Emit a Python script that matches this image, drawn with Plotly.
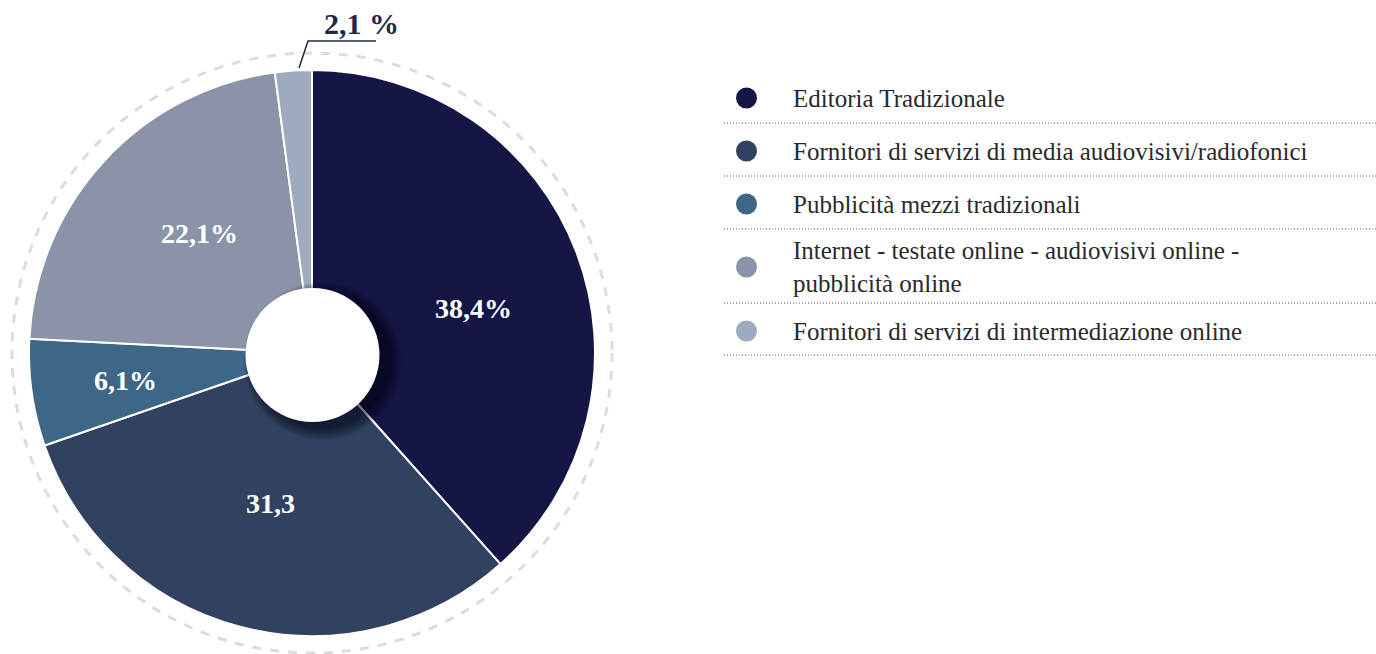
import plotly.graph_objects as go

# Shares by sector (%), clockwise from 12 o'clock
categories = [
    "Editoria Tradizionale",
    "Fornitori di servizi di media audiovisivi/radiofonici",
    "Pubblicità mezzi tradizionali",
    "Internet - testate online - audiovisivi online -<br>pubblicità online",
    "Fornitori di servizi di intermediazione online",
]
values = [38.4, 31.3, 6.1, 22.1, 2.1]
value_labels = ["38,4%", "31,3", "6,1%", "22,1%", "2,1 %"]
colors = ["#161646", "#30425f", "#3e6686", "#8b93a9", "#9eaabd"]

W, H = 1376, 654
SERIF = "Liberation Serif"


def px(x):
    return x / W


def py(y):
    return 1 - y / H


cx, cy, R = 312, 353, 283

fig = go.Figure(
    go.Pie(
        labels=categories,
        values=values,
        sort=False,
        direction="clockwise",
        rotation=0,
        hole=0.2,
        marker=dict(colors=colors, line=dict(color="white", width=2)),
        textinfo="none",
        hoverinfo="label+value",
        showlegend=False,
        domain=dict(x=[px(cx - R), px(cx + R)], y=[py(cy + R), py(cy - R)]),
    )
)

shapes = []
# dashed ring around the pie
RD = 300
shapes.append(dict(type="circle", xref="paper", yref="paper",
                   x0=px(cx - RD), x1=px(cx + RD), y0=py(cy + RD), y1=py(cy - RD),
                   line=dict(color="#dcdcdc", width=3, dash="dash"), layer="below"))

# soft shadow cast by the centre hole towards the lower right
hx, hy, hr = 312.5, 355, 67
ox, oy = 10, 6
for k in range(12, -1, -1):
    r = hr + k
    shapes.append(dict(type="circle", xref="paper", yref="paper",
                       x0=px(hx + ox - r), x1=px(hx + ox + r),
                       y0=py(hy + oy + r), y1=py(hy + oy - r),
                       fillcolor="rgba(0,0,20,0.055)", line=dict(width=0), layer="above"))
# the white centre of the donut
shapes.append(dict(type="circle", xref="paper", yref="paper",
                   x0=px(hx - hr), x1=px(hx + hr), y0=py(hy + hr), y1=py(hy - hr),
                   fillcolor="white", line=dict(width=0), layer="above"))

# leader line for the smallest slice
shapes.append(dict(type="path", xref="paper", yref="paper",
                   path=f"M {px(299)},{py(68)} L {px(308)},{py(41)} L {px(376)},{py(41)}",
                   line=dict(color="#1b2a4a", width=1.5)))

annotations = []
# in-slice value labels
label_pos = [(473, 308), (270, 503), (125, 381), (199, 233)]
for (x, y), t in zip(label_pos, value_labels[:4]):
    annotations.append(dict(x=px(x), y=py(y), xref="paper", yref="paper",
                            xanchor="center", yanchor="middle", text=f"<b>{t}</b>",
                            showarrow=False, font=dict(family=SERIF, size=28, color="white")))
annotations.append(dict(x=px(361), y=py(23), xref="paper", yref="paper",
                        xanchor="center", yanchor="middle",
                        text=f"<b>{value_labels[4]}</b>", showarrow=False,
                        font=dict(family=SERIF, size=30, color="#1b2a4a")))

# legend: dot, text and dotted separator for each sector
legend_y = [98, 151, 204, 267, 331]
sep_y = [123, 176, 229, 303, 355]
for c, name, ly, sy in zip(colors, categories, legend_y, sep_y):
    shapes.append(dict(type="circle", xref="paper", yref="paper",
                       x0=px(736), x1=px(757), y0=py(ly + 10.5), y1=py(ly - 10.5),
                       fillcolor=c, line=dict(width=0)))
    shapes.append(dict(type="line", xref="paper", yref="paper",
                       x0=px(724), x1=px(1376), y0=py(sy), y1=py(sy),
                       line=dict(color="#555555", width=1, dash="1px,2px")))
    annotations.append(dict(x=px(791), y=py(ly), xref="paper", yref="paper",
                            xanchor="left", yanchor="middle", align="left",
                            text=name, showarrow=False,
                            font=dict(family=SERIF, size=25, color="#2a2a2a")))

fig.update_layout(
    width=W, height=H,
    margin=dict(l=0, r=0, t=0, b=0),
    paper_bgcolor="white", plot_bgcolor="white",
    shapes=shapes, annotations=annotations,
)

fig.write_html("out.html")
